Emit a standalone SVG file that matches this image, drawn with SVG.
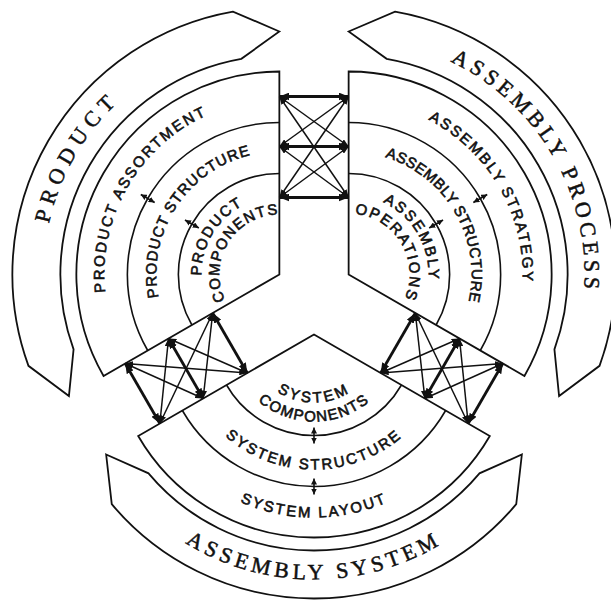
<svg xmlns="http://www.w3.org/2000/svg" width="611" height="601" viewBox="0 0 611 601">
<style>
.shape{fill:#fff;stroke:#111;stroke-width:1.8;stroke-linejoin:miter}
.div{fill:none;stroke:#111;stroke-width:1.6}
.ban{font-family:"Liberation Serif","Times New Roman",serif;font-size:22px;fill:#111;stroke:#111;stroke-width:0.5;text-anchor:middle}
.lbl{font-family:"Liberation Sans",Arial,sans-serif;font-size:15px;fill:#111;stroke:#111;stroke-width:0.6;text-anchor:middle}
.thick{fill:none;stroke:#111;stroke-width:2.8;marker-start:url(#big);marker-end:url(#big)}
.thin{fill:none;stroke:#111;stroke-width:1.5;marker-start:url(#sm);marker-end:url(#sm)}
.tiny{fill:none;stroke:#111;stroke-width:1.6;marker-start:url(#tn);marker-end:url(#tn)}
</style>
<defs>
<marker id="big" viewBox="0 0 10 8" refX="10" refY="4" markerWidth="10" markerHeight="8" markerUnits="userSpaceOnUse" orient="auto-start-reverse"><path d="M0,0L10,4L0,8z" fill="#111"/></marker>
<marker id="sm" viewBox="0 0 8 6" refX="8" refY="3" markerWidth="8" markerHeight="6" markerUnits="userSpaceOnUse" orient="auto-start-reverse"><path d="M0,0L8,3L0,6z" fill="#111"/></marker>
<marker id="tn" viewBox="0 0 6 6" refX="6" refY="3" markerWidth="6" markerHeight="6" markerUnits="userSpaceOnUse" orient="auto-start-reverse"><path d="M0,0L6,3L0,6z" fill="#111"/></marker>
<path id="tp-p-ban" d="M127.66,455.29A236,236 0 0 1 360.08,52.73"/>
<path id="tp-p-ass" d="M166.87,408.56A175,175 0 0 1 339.21,110.05"/>
<path id="tp-p-str" d="M195.47,364.46A123,123 0 0 1 327.42,161.28"/>
<path id="tp-p-c1" d="M228.19,333.37A78,78 0 0 1 307.31,201.68"/>
<path id="tp-p-c2" d="M239.21,319.09A60,60 0 0 1 301.84,218.87"/>
<path id="tp-a-ban" d="M267.92,52.73A236,236 0 0 1 500.34,455.29"/>
<path id="tp-a-stg" d="M289.13,110.99A174,174 0 0 1 460.49,407.79"/>
<path id="tp-a-str" d="M306.57,158.92A123,123 0 0 1 427.70,368.72"/>
<path id="tp-a-o1" d="M321.28,199.32A80,80 0 0 1 400.06,335.78"/>
<path id="tp-a-o2" d="M327.78,217.18A61,61 0 0 1 387.85,321.23"/>
<path id="tp-s-ban" d="M72.72,377.04A245,245 0 0 0 555.28,377.04"/>
<path id="tp-s-lay" d="M133.78,366.28A183,183 0 0 0 494.22,366.28"/>
<path id="tp-s-str" d="M181.05,357.94A135,135 0 0 0 446.95,357.94"/>
<path id="tp-s-c1" d="M247.03,346.31A68,68 0 0 0 380.97,346.31"/>
<path id="tp-s-c2" d="M228.32,349.61A87,87 0 0 0 399.68,349.61"/>
</defs>
<rect width="611" height="601" fill="#fff"/>

<g id="product">
  <g id="product-banner">
    <path class="shape" d="M279.36,31.5L233.00,11.56A267,267 0 0 0 28.46,365.82L68.92,396L73.57,349.40A219,219 0 0 1 241.33,58.83Z"/>
    <text class="ban" letter-spacing="6"><textPath href="#tp-p-ban" startOffset="50%">PRODUCT</textPath></text>
  </g>
  <g id="product-sector">
    <path class="shape" d="M279.36,274.5L279.36,71.5A203,203 0 0 0 103.56,376Z"/>
    <path class="div" d="M279.36,122.5A152,152 0 0 0 147.72,350.5"/>
    <path class="div" d="M279.36,173.5A101,101 0 0 0 191.89,325"/>
  </g>
  <g id="product-assortment"><text class="lbl" letter-spacing="2.1"><textPath href="#tp-p-ass" startOffset="50%">PRODUCT ASSORTMENT</textPath></text></g>
  <g id="product-structure"><text class="lbl" letter-spacing="1.0"><textPath href="#tp-p-str" startOffset="50%">PRODUCT STRUCTURE</textPath></text></g>
  <g id="product-components">
    <text class="lbl" letter-spacing="1.8"><textPath href="#tp-p-c1" startOffset="50%">PRODUCT</textPath></text>
    <text class="lbl" letter-spacing="1.3"><textPath href="#tp-p-c2" startOffset="50%">COMPONENTS</textPath></text>
  </g>
</g>

<g id="assembly-process">
  <g id="process-banner">
    <path class="shape" d="M348.64,31.5L395.00,11.56A267,267 0 0 1 599.54,365.82L559.08,396L554.43,349.40A219,219 0 0 0 386.67,58.83Z"/>
    <text class="ban" letter-spacing="4.3"><textPath href="#tp-a-ban" startOffset="50%">ASSEMBLY PROCESS</textPath></text>
  </g>
  <g id="process-sector">
    <path class="shape" d="M348.64,274.5L348.64,71.5A203,203 0 0 1 524.44,376Z"/>
    <path class="div" d="M348.64,122.5A152,152 0 0 1 480.28,350.5"/>
    <path class="div" d="M348.64,173.5A101,101 0 0 1 436.11,325"/>
  </g>
  <g id="assembly-strategy"><text class="lbl" letter-spacing="2.1"><textPath href="#tp-a-stg" startOffset="50%">ASSEMBLY STRATEGY</textPath></text></g>
  <g id="assembly-structure"><text class="lbl" letter-spacing="0.4"><textPath href="#tp-a-str" startOffset="50%">ASSEMBLY STRUCTURE</textPath></text></g>
  <g id="assembly-operations">
    <text class="lbl" letter-spacing="2.1"><textPath href="#tp-a-o1" startOffset="50%">ASSEMBLY</textPath></text>
    <text class="lbl" letter-spacing="1.8"><textPath href="#tp-a-o2" startOffset="50%">OPERATIONS</textPath></text>
  </g>
</g>

<g id="assembly-system">
  <g id="system-banner">
    <path class="shape" d="M106.15,454.5L148.53,473.34A216,216 0 0 0 479.47,473.34L521.85,454.5L516.24,504.2A264,264 0 0 1 111.76,504.2Z"/>
    <text class="ban" letter-spacing="4.3"><textPath href="#tp-s-ban" startOffset="50%">ASSEMBLY SYSTEM</textPath></text>
  </g>
  <g id="system-sector">
    <path class="shape" d="M314,334.5L138.2,436A203,203 0 0 0 489.8,436Z"/>
    <path class="div" d="M182.36,410.5A152,152 0 0 0 445.64,410.5"/>
    <path class="div" d="M226.53,385A101,101 0 0 0 401.47,385"/>
  </g>
  <g id="system-layout"><text class="lbl" letter-spacing="2.1"><textPath href="#tp-s-lay" startOffset="50%">SYSTEM LAYOUT</textPath></text></g>
  <g id="system-structure"><text class="lbl" letter-spacing="2.2"><textPath href="#tp-s-str" startOffset="50%">SYSTEM STRUCTURE</textPath></text></g>
  <g id="system-components">
    <text class="lbl" letter-spacing="2.7"><textPath href="#tp-s-c1" startOffset="50%">SYSTEM</textPath></text>
    <text class="lbl" letter-spacing="1.4"><textPath href="#tp-s-c2" startOffset="50%">COMPONENTS</textPath></text>
  </g>
</g>

<g id="connectors">
  <line class="thick" x1="279.36" y1="96.5" x2="348.64" y2="96.5"/>
  <line class="thick" x1="279.36" y1="146.5" x2="348.64" y2="146.5"/>
  <line class="thick" x1="279.36" y1="197.5" x2="348.64" y2="197.5"/>
  <line class="thin" x1="279.36" y1="96.5" x2="348.64" y2="146.5"/>
  <line class="thin" x1="279.36" y1="96.5" x2="348.64" y2="197.5"/>
  <line class="thin" x1="279.36" y1="146.5" x2="348.64" y2="96.5"/>
  <line class="thin" x1="279.36" y1="146.5" x2="348.64" y2="197.5"/>
  <line class="thin" x1="279.36" y1="197.5" x2="348.64" y2="96.5"/>
  <line class="thin" x1="279.36" y1="197.5" x2="348.64" y2="146.5"/>
  <line class="thick" x1="125.21" y1="363.5" x2="159.85" y2="423.5"/>
  <line class="thick" x1="168.51" y1="338.5" x2="203.15" y2="398.5"/>
  <line class="thick" x1="212.68" y1="313" x2="247.32" y2="373"/>
  <line class="thin" x1="125.21" y1="363.5" x2="203.15" y2="398.5"/>
  <line class="thin" x1="125.21" y1="363.5" x2="247.32" y2="373"/>
  <line class="thin" x1="168.51" y1="338.5" x2="159.85" y2="423.5"/>
  <line class="thin" x1="168.51" y1="338.5" x2="247.32" y2="373"/>
  <line class="thin" x1="212.68" y1="313" x2="159.85" y2="423.5"/>
  <line class="thin" x1="212.68" y1="313" x2="203.15" y2="398.5"/>
  <line class="thick" x1="502.79" y1="363.5" x2="468.15" y2="423.5"/>
  <line class="thick" x1="459.49" y1="338.5" x2="424.85" y2="398.5"/>
  <line class="thick" x1="415.32" y1="313" x2="380.68" y2="373"/>
  <line class="thin" x1="502.79" y1="363.5" x2="424.85" y2="398.5"/>
  <line class="thin" x1="502.79" y1="363.5" x2="380.68" y2="373"/>
  <line class="thin" x1="459.49" y1="338.5" x2="468.15" y2="423.5"/>
  <line class="thin" x1="459.49" y1="338.5" x2="380.68" y2="373"/>
  <line class="thin" x1="415.32" y1="313" x2="468.15" y2="423.5"/>
  <line class="thin" x1="415.32" y1="313" x2="424.85" y2="398.5"/>
  <line class="tiny" x1="154.65" y1="202.5" x2="140.79" y2="194.5"/>
  <line class="tiny" x1="198.82" y1="228" x2="184.96" y2="220"/>
  <line class="tiny" x1="473.35" y1="202.5" x2="487.21" y2="194.5"/>
  <line class="tiny" x1="429.18" y1="228" x2="443.04" y2="220"/>
  <line class="tiny" x1="314" y1="427.5" x2="314" y2="443.5"/>
  <line class="tiny" x1="314" y1="478.5" x2="314" y2="494.5"/>
</g>
</svg>
